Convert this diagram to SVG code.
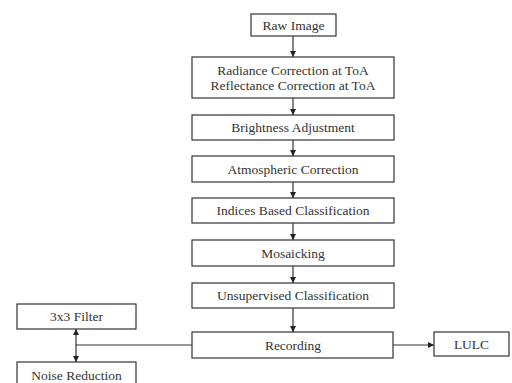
<svg xmlns="http://www.w3.org/2000/svg" width="512" height="383" viewBox="0 0 512 383">
<defs>
<style>
.box{fill:#fff;stroke:#333;stroke-width:1.2}
.t{font-family:"Liberation Serif","Times New Roman",serif;font-size:13.5px;fill:#333;text-anchor:middle}
.c{stroke:#333;stroke-width:1.2;fill:none}
</style>
<marker id="ah" viewBox="0 0 10 10" refX="10" refY="5" markerWidth="6" markerHeight="6" orient="auto-start-reverse" markerUnits="userSpaceOnUse">
<path d="M0,0 L10,5 L0,10 z" fill="#222"/>
</marker>
</defs>
<rect width="512" height="383" fill="#fff"/>
<g id="connectors">
<line class="c" x1="293" y1="36" x2="293" y2="57" marker-end="url(#ah)"/>
<line class="c" x1="293" y1="98" x2="293" y2="115" marker-end="url(#ah)"/>
<line class="c" x1="293" y1="140" x2="293" y2="156" marker-end="url(#ah)"/>
<line class="c" x1="293" y1="182" x2="293" y2="198" marker-end="url(#ah)"/>
<line class="c" x1="293" y1="223" x2="293" y2="240" marker-end="url(#ah)"/>
<line class="c" x1="293" y1="266" x2="293" y2="283" marker-end="url(#ah)"/>
<line class="c" x1="293" y1="308" x2="293" y2="332" marker-end="url(#ah)"/>
<line class="c" x1="393" y1="345" x2="434" y2="345" marker-end="url(#ah)"/>
<line class="c" x1="192" y1="345" x2="76" y2="345"/>
<line class="c" x1="76" y1="329" x2="76" y2="362" marker-start="url(#ah)" marker-end="url(#ah)"/>
</g>
<g id="raw-image"><rect class="box" x="251" y="14" width="85" height="22"/><text class="t" x="293.5" y="29.5">Raw Image</text></g>
<g id="radiance"><rect class="box" x="192" y="57" width="202" height="41"/><text class="t" x="293" y="75">Radiance Correction at ToA</text><text class="t" x="293" y="90">Reflectance Correction at ToA</text></g>
<g id="brightness"><rect class="box" x="192" y="115" width="202" height="25"/><text class="t" x="293" y="132">Brightness Adjustment</text></g>
<g id="atmospheric"><rect class="box" x="192" y="156" width="202" height="26"/><text class="t" x="293" y="173.5">Atmospheric Correction</text></g>
<g id="indices"><rect class="box" x="192" y="198" width="202" height="25"/><text class="t" x="293" y="215">Indices Based Classification</text></g>
<g id="mosaicking"><rect class="box" x="192" y="240" width="202" height="26"/><text class="t" x="293" y="257.5">Mosaicking</text></g>
<g id="unsupervised"><rect class="box" x="192" y="283" width="202" height="25"/><text class="t" x="293" y="300">Unsupervised Classification</text></g>
<g id="recording"><rect class="box" x="192" y="332" width="201" height="26"/><text class="t" x="293" y="349.5">Recording</text></g>
<g id="lulc"><rect class="box" x="434" y="332" width="75" height="24"/><text class="t" x="471.5" y="348.5">LULC</text></g>
<g id="filter"><rect class="box" x="17" y="304" width="119" height="25"/><text class="t" x="76.5" y="321">3x3 Filter</text></g>
<g id="noise"><rect class="box" x="17" y="362" width="119" height="30"/><text class="t" x="76.5" y="380">Noise Reduction</text></g>
</svg>
